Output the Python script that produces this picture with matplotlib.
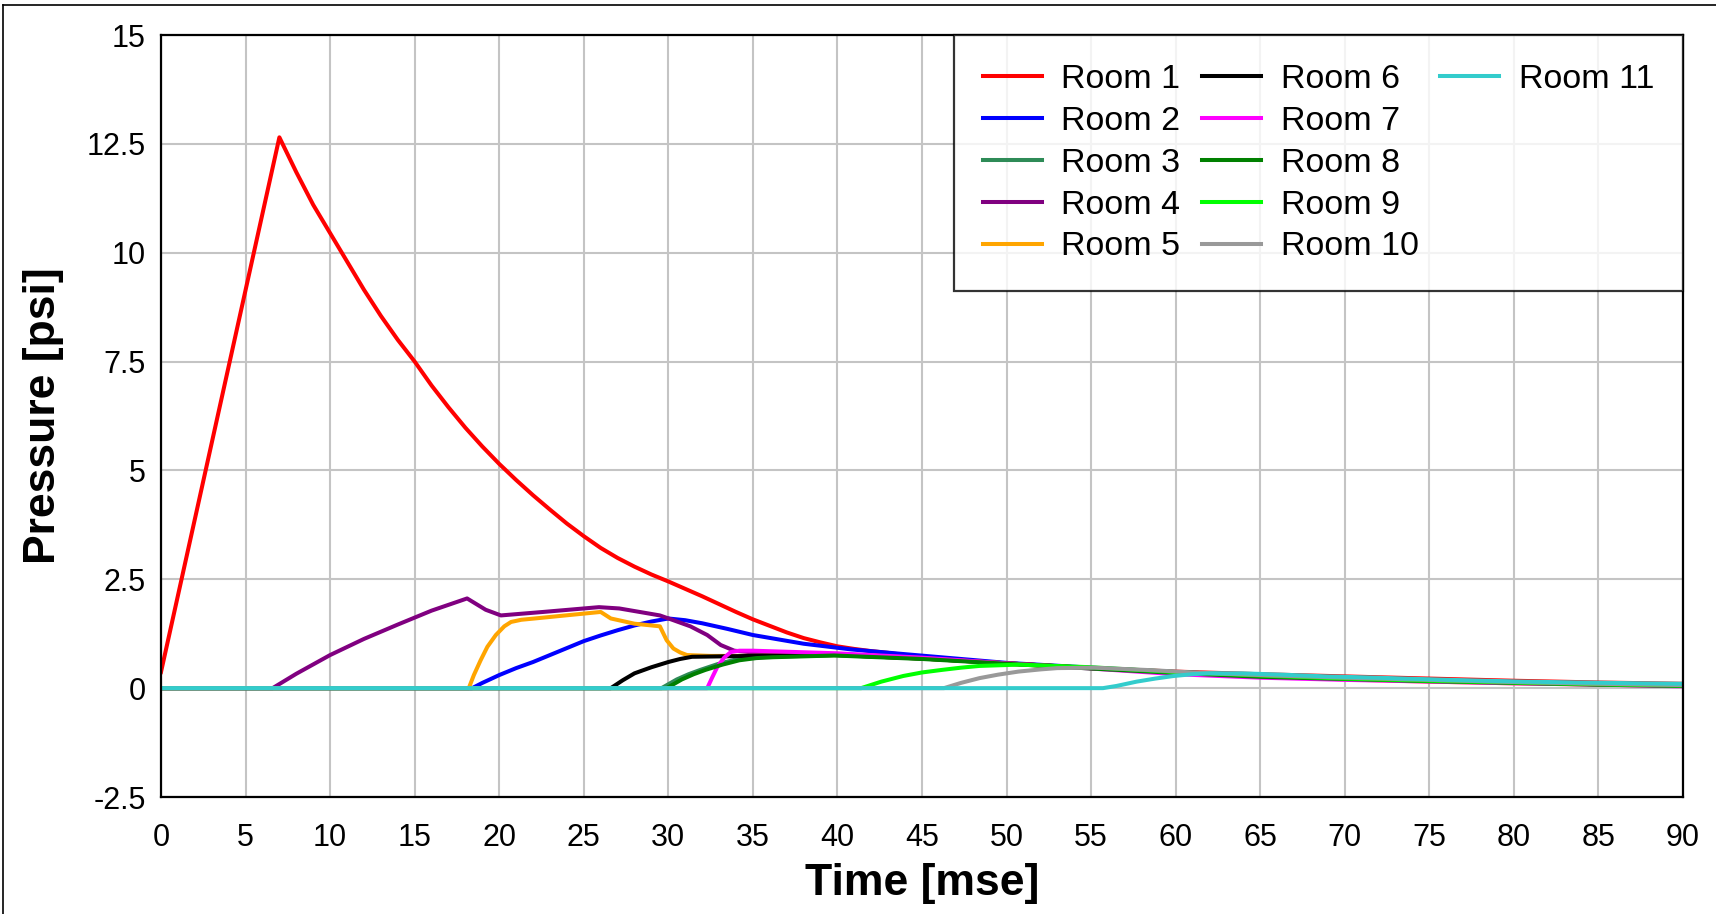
import numpy as np
import matplotlib
matplotlib.use('Agg')
import matplotlib.pyplot as plt
from matplotlib.lines import Line2D

plt.rcParams['font.family'] = ['Liberation Sans', 'DejaVu Sans']

# pressure traces, time in ms, pressure in psi
t_room1 = [0, 7, 8, 9, 10, 11, 12, 13, 14, 15, 16, 17, 18, 19, 20, 21, 22, 23, 24, 25, 26, 27,
           28, 29, 30, 31, 32, 33, 34, 35, 36, 37, 38, 39, 40, 41, 42, 43, 44, 45, 47.5, 50,
           55, 60, 65, 70, 75, 80, 85, 90]
p_room1 = [0.37, 12.65, 11.85, 11.1, 10.45, 9.8, 9.15, 8.55, 8.0, 7.5, 6.95, 6.45, 5.98, 5.55,
           5.15, 4.78, 4.43, 4.1, 3.78, 3.49, 3.22, 2.99, 2.79, 2.61, 2.45, 2.28, 2.11, 1.93,
           1.75, 1.58, 1.43, 1.28, 1.15, 1.05, 0.96, 0.90, 0.85, 0.81, 0.76, 0.72, 0.63, 0.56,
           0.46, 0.38, 0.32, 0.27, 0.22, 0.17, 0.13, 0.10]

t_room2 = [0, 18.4, 19, 20, 21, 22, 23, 24, 25, 26, 27, 28, 29, 30, 31, 32, 33.5, 35, 36.5, 38,
           40.8, 43.7, 47, 50, 55, 60, 65, 70, 75, 80, 85, 90]
p_room2 = [0, 0, 0.12, 0.3, 0.46, 0.6, 0.76, 0.92, 1.08, 1.21, 1.33, 1.44, 1.53, 1.6, 1.56, 1.49,
           1.36, 1.22, 1.12, 1.02, 0.89, 0.79, 0.68, 0.58, 0.47, 0.37, 0.29, 0.23, 0.18, 0.14,
           0.10, 0.07]

t_room3 = [0, 29.6, 30.5, 31.2, 31.9, 32.9, 33.9, 35, 36, 39.8, 45, 50, 55, 60, 65, 70, 75, 80, 85, 90]
p_room3 = [0, 0, 0.2, 0.32, 0.42, 0.55, 0.65, 0.70, 0.72, 0.76, 0.68, 0.57, 0.46, 0.36, 0.28,
           0.22, 0.17, 0.13, 0.09, 0.06]

t_room4 = [0, 6.6, 8, 10, 12, 14, 16, 18.1, 19.2, 20.1, 22.6, 25.9, 27.1, 29.5, 30.3, 31.3, 32.3,
           33.1, 33.9, 35, 40, 45, 50, 55, 60, 65, 70, 75, 80, 85, 90]
p_room4 = [0, 0, 0.33, 0.76, 1.13, 1.46, 1.78, 2.06, 1.8, 1.67, 1.75, 1.86, 1.83, 1.67, 1.56,
           1.42, 1.22, 0.99, 0.86, 0.82, 0.78, 0.69, 0.57, 0.46, 0.36, 0.28, 0.22, 0.17, 0.13,
           0.09, 0.06]

t_room5 = [0, 18.2, 18.5, 18.9, 19.3, 19.8, 20.3, 20.7, 21.3, 22.1, 26.0, 26.6, 28.0, 29.5, 29.9,
           30.3, 30.7, 31.1, 32.5, 35, 40, 45, 50, 55, 60, 65, 70, 75, 80, 85, 90]
p_room5 = [0, 0, 0.3, 0.64, 0.95, 1.22, 1.42, 1.52, 1.57, 1.6, 1.75, 1.6, 1.48, 1.42, 1.1, 0.91,
           0.82, 0.76, 0.74, 0.74, 0.76, 0.68, 0.57, 0.46, 0.36, 0.28, 0.20, 0.15, 0.11, 0.08, 0.05]

t_room6 = [0, 26.6, 27.3, 28, 29, 30, 30.7, 31.4, 35, 40, 45, 50, 55, 60, 65, 70, 75, 80, 85, 90]
p_room6 = [0, 0, 0.18, 0.34, 0.48, 0.6, 0.67, 0.72, 0.74, 0.76, 0.68, 0.57, 0.46, 0.36, 0.28,
           0.22, 0.17, 0.13, 0.09, 0.06]

t_room7 = [0, 32.3, 32.6, 32.9, 33.3, 33.7, 34.2, 35, 40, 45, 50, 55, 60, 65, 70, 75, 80, 85, 90]
p_room7 = [0, 0, 0.25, 0.49, 0.7, 0.83, 0.86, 0.86, 0.80, 0.70, 0.57, 0.45, 0.32, 0.24, 0.19,
           0.15, 0.11, 0.08, 0.04]

t_room8 = [0, 29.9, 30.8, 31.5, 32.2, 33.2, 34.2, 35.2, 36.2, 39.8, 45, 50, 55, 60, 65, 70, 75,
           80, 85, 90]
p_room8 = [0, 0, 0.2, 0.32, 0.42, 0.54, 0.64, 0.69, 0.71, 0.75, 0.67, 0.56, 0.45, 0.35, 0.26,
           0.21, 0.16, 0.12, 0.08, 0.05]

t_room9 = [0, 41.4, 42.6, 43.9, 45, 46.2, 47.3, 48.4, 50.7, 52.9, 55, 60, 65, 70, 75, 80, 85, 90]
p_room9 = [0, 0, 0.15, 0.28, 0.36, 0.42, 0.47, 0.51, 0.54, 0.51, 0.48, 0.37, 0.29, 0.22, 0.17,
           0.13, 0.09, 0.06]

t_room10 = [0, 46.3, 47.3, 48.4, 49.5, 50.7, 52, 53, 55.2, 58.7, 61, 65, 70, 75, 80, 85, 90]
p_room10 = [0, 0, 0.12, 0.23, 0.31, 0.38, 0.43, 0.46, 0.47, 0.41, 0.36, 0.30, 0.24, 0.19, 0.14,
            0.10, 0.07]

t_room11 = [0, 55.7, 56.5, 57.7, 58.8, 59.9, 61, 62, 63.9, 66.3, 68.9, 71.5, 74.4, 77.2, 80.5,
            83.9, 87.7, 90]
p_room11 = [0, 0, 0.05, 0.15, 0.22, 0.28, 0.32, 0.34, 0.34, 0.31, 0.27, 0.245, 0.21, 0.18, 0.15,
            0.13, 0.11, 0.10]

rooms = ['Room 1', 'Room 2', 'Room 3', 'Room 4', 'Room 5', 'Room 6',
         'Room 7', 'Room 8', 'Room 9', 'Room 10', 'Room 11']
times = [t_room1, t_room2, t_room3, t_room4, t_room5, t_room6,
         t_room7, t_room8, t_room9, t_room10, t_room11]
pressures = [p_room1, p_room2, p_room3, p_room4, p_room5, p_room6,
             p_room7, p_room8, p_room9, p_room10, p_room11]
colors = ['#ff0000', '#0000ff', '#2e8b57', '#800080', '#ffa500', '#000000',
          '#ff00ff', '#008000', '#00ff00', '#999999', '#33cccc']

fig = plt.figure(figsize=(17.16, 9.14), dpi=100)
ax = fig.add_axes([161 / 1716, 1 - 797 / 914, (1683 - 161) / 1716, (797 - 35) / 914])

handles = []
for t, p, c, name in zip(times, pressures, colors, rooms):
    ln, = ax.plot(t, p, color=c, lw=2.9, label=name, solid_joinstyle='round')
    handles.append(ln)

ax.set_xlim(0, 90)
ax.set_ylim(-2.5, 15)
ax.set_xticks(np.arange(0, 91, 5))
ax.set_yticks(np.arange(-2.5, 15.1, 2.5))
ax.set_yticklabels(['-2.5', '0', '2.5', '5', '7.5', '10', '12.5', '15'])
ax.grid(True, color='#c4c4c4', lw=1.5)
ax.set_axisbelow(True)
ax.tick_params(length=0, labelsize=22)
ax.tick_params(axis='x', pad=19)
ax.tick_params(axis='y', pad=11)
for s in ax.spines.values():
    s.set_linewidth(1.6)

ax.set_xlabel('Time [mse]', fontsize=32, fontweight='bold', labelpad=7)
ax.set_ylabel('Pressure [psi]', fontsize=32, fontweight='bold', labelpad=16)

# 5 rows x 3 columns: pad the last column with empty entries
blank = Line2D([], [], alpha=0)
leg_handles = handles + [blank] * 4
leg_labels = rooms + [''] * 4
leg = ax.legend(leg_handles, leg_labels, loc='upper right', ncol=3, fontsize=24.5,
                frameon=True, fancybox=False, borderaxespad=0, handlelength=1.75,
                handletextpad=0.57, columnspacing=0.62, labelspacing=0.32, borderpad=0.85)
leg.get_frame().set_edgecolor('black')
leg.get_frame().set_linewidth(1.6)
for h in leg.get_lines():
    h.set_linewidth(2.9)

# window frame on left and top
fig.add_artist(Line2D([3 / 1716, 3 / 1716], [0, 1 - 5 / 914], color='black', lw=1.2))
fig.add_artist(Line2D([3 / 1716, 1], [1 - 5 / 914, 1 - 5 / 914], color='black', lw=1.2))

fig.savefig('out.png', dpi=100, facecolor='white')
